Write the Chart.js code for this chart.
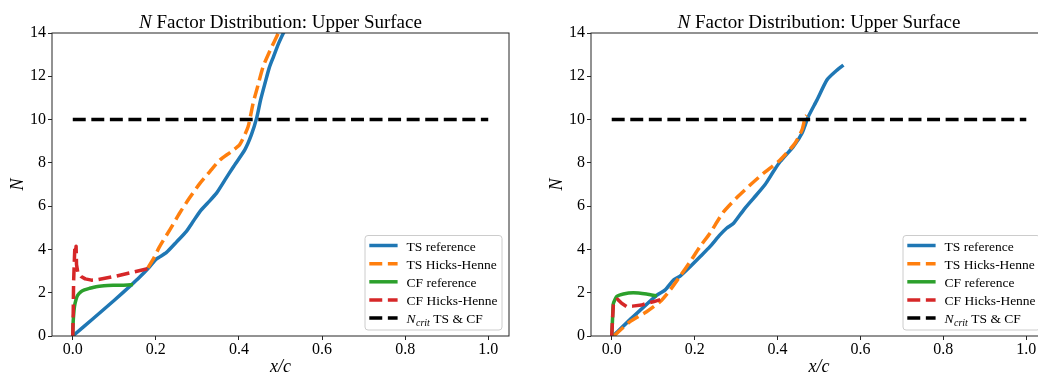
<!DOCTYPE html>
<html>
<head>
<meta charset="utf-8">
<script src="https://cdn.jsdelivr.net/npm/chart.js@4.4.1/dist/chart.umd.min.js"></script>
<style>
  body { margin: 0; background: #fff; width: 1038px; height: 376px; overflow: hidden; position: relative; }
  canvas { position: absolute; top: 0; }
  #leftChart { left: 0; }
  #rightChart { left: 520px; }
</style>
</head>
<body>
<canvas id="leftChart" width="520" height="376"></canvas>
<canvas id="rightChart" width="540" height="376"></canvas>
<script>
//========== data (x/c, N) ==========//

const xTicks = [0, 0.2, 0.4, 0.6, 0.8, 1.0];
const yTicks = [0, 2, 4, 6, 8, 10, 12, 14];
const titleText = ['N', ' Factor Distribution: Upper Surface'];
const seriesNames = ['TS reference', 'TS Hicks-Henne', 'CF reference', 'CF Hicks-Henne', 'N_crit TS & CF'];

// N_crit is the same on both sides
const nCrit = [[0, 10], [1, 10]];

// left plot
const tsRefLeft = [[0, 0], [0.05, 0.82], [0.1, 1.65], [0.141, 2.36], [0.16, 2.7], [0.185, 3.2], [0.201, 3.55],
  [0.225, 3.85], [0.25, 4.35], [0.274, 4.85], [0.29, 5.3], [0.306, 5.75], [0.325, 6.15], [0.346, 6.6],
  [0.366, 7.2], [0.386, 7.8], [0.414, 8.6], [0.43, 9.3], [0.443, 10.1], [0.452, 10.9], [0.463, 11.7],
  [0.473, 12.4], [0.483, 12.9], [0.495, 13.5], [0.507, 14.0], [0.52, 14.5]];
const tsHHLeft = [[0.181, 3.15], [0.195, 3.6], [0.209, 4.13], [0.235, 4.95], [0.257, 5.67], [0.28, 6.35],
  [0.306, 7.05], [0.33, 7.6], [0.354, 8.13], [0.38, 8.5], [0.402, 8.85], [0.422, 9.67], [0.434, 10.75],
  [0.446, 11.6], [0.458, 12.44], [0.475, 13.2], [0.495, 14.0], [0.505, 14.4]];
const cfRefLeft = [[0, 0], [0.001, 0.66], [0.004, 1.35], [0.008, 1.7], [0.012, 1.89], [0.02, 2.05], [0.028, 2.13],
  [0.04, 2.2], [0.056, 2.28], [0.075, 2.32], [0.097, 2.34], [0.12, 2.35], [0.145, 2.38]];
const cfHHLeft = [[0, 0], [0.001, 1.0], [0.002, 2.5], [0.004, 3.6], [0.005, 4.1], [0.007, 3.9], [0.008, 4.15],
  [0.009, 3.3], [0.012, 2.95], [0.02, 2.75], [0.03, 2.64], [0.045, 2.58], [0.06, 2.6], [0.1, 2.75],
  [0.145, 2.95], [0.185, 3.13]];

// right plot
const tsRefRight = [[0.003, 0], [0.05, 0.86], [0.109, 1.89], [0.129, 2.13], [0.149, 2.59], [0.165, 2.77],
  [0.189, 3.2], [0.213, 3.66], [0.237, 4.13], [0.261, 4.67], [0.277, 4.98], [0.294, 5.21], [0.318, 5.82],
  [0.342, 6.36], [0.37, 7.0], [0.39, 7.6], [0.406, 8.05], [0.438, 8.75], [0.459, 9.37], [0.474, 10.13],
  [0.495, 10.9], [0.519, 11.83], [0.539, 12.21], [0.559, 12.52]];
const tsHHRight = [[0.005, 0], [0.044, 0.66], [0.084, 1.12], [0.117, 1.59], [0.141, 2.13], [0.165, 2.77],
  [0.189, 3.43], [0.213, 4.13], [0.237, 4.75], [0.269, 5.72], [0.302, 6.4], [0.334, 6.98], [0.366, 7.52],
  [0.406, 8.13], [0.442, 8.9], [0.459, 9.52], [0.467, 10.13], [0.47, 10.2]];
const cfRefRight = [[0, 0], [0.002, 0.8], [0.004, 1.5], [0.012, 1.82], [0.028, 1.94], [0.052, 2.0],
  [0.084, 1.94], [0.109, 1.85]];
const cfHHRight = [[0, 0], [0.002, 0.8], [0.004, 1.45], [0.01, 1.66], [0.014, 1.7], [0.024, 1.51],
  [0.036, 1.36], [0.05, 1.38], [0.072, 1.43], [0.084, 1.51], [0.1, 1.58], [0.117, 1.68]];

//========== styles ==========//

const serif = "'Liberation Serif', 'Times New Roman', serif";
const lineW = 3.5;
const dashed = [12.95, 5.6];
const styles = [
  { color: '#1f77b4', dash: [], tension: 0.2 },
  { color: '#ff7f0e', dash: dashed, tension: 0.2 },
  { color: '#2ca02c', dash: [], tension: 0.2 },
  { color: '#d62728', dash: dashed, tension: 0 },
  { color: '#000000', dash: dashed, tension: 0 }
];

// frame, title and legend drawn the matplotlib way
const mplDecor = {
  id: 'mplDecor',
  afterDraw(chart) {
    const { ctx, chartArea: a } = chart;
    ctx.save();

    // spines
    ctx.strokeStyle = '#262626';
    ctx.lineWidth = 1;
    ctx.strokeRect(a.left, a.top, a.right - a.left, a.bottom - a.top);

    // title
    const tItalic = 'italic 19px ' + serif, tNormal = '19px ' + serif;
    ctx.font = tItalic;
    const wN = ctx.measureText(titleText[0]).width;
    ctx.font = tNormal;
    const wRest = ctx.measureText(titleText[1]).width;
    const tx = (a.left + a.right) / 2 - (wN + wRest) / 2;
    ctx.fillStyle = '#000';
    ctx.textAlign = 'left';
    ctx.textBaseline = 'alphabetic';
    ctx.font = tItalic;
    ctx.fillText(titleText[0], tx, 28);
    ctx.font = tNormal;
    ctx.fillText(titleText[1], tx + wN, 28);

    // legend
    const bw = 137, bh = 94.5, r = 3;
    const bx = a.right - 7 - bw, by = a.bottom - 6 - bh;
    ctx.beginPath();
    ctx.moveTo(bx + r, by);
    ctx.lineTo(bx + bw - r, by);
    ctx.arcTo(bx + bw, by, bx + bw, by + r, r);
    ctx.lineTo(bx + bw, by + bh - r);
    ctx.arcTo(bx + bw, by + bh, bx + bw - r, by + bh, r);
    ctx.lineTo(bx + r, by + bh);
    ctx.arcTo(bx, by + bh, bx, by + bh - r, r);
    ctx.lineTo(bx, by + r);
    ctx.arcTo(bx, by, bx + r, by, r);
    ctx.closePath();
    ctx.fillStyle = 'rgba(255,255,255,0.8)';
    ctx.fill();
    ctx.strokeStyle = '#cccccc';
    ctx.lineWidth = 1;
    ctx.stroke();

    chart.data.datasets.forEach((ds, i) => {
      const cy = by + 10 + i * 18.15;
      ctx.beginPath();
      ctx.setLineDash(ds.borderDash);
      ctx.lineDashOffset = 0;
      ctx.lineCap = 'butt';
      ctx.strokeStyle = ds.borderColor;
      ctx.lineWidth = ds.borderWidth;
      ctx.moveTo(bx + 4.3, cy);
      ctx.lineTo(bx + 32.6, cy);
      ctx.stroke();
      ctx.setLineDash([]);

      ctx.fillStyle = '#000';
      let x = bx + 41.5;
      const y = cy + 5;
      if (ds.label.startsWith('N_crit')) {
        ctx.font = 'italic 13.5px ' + serif;
        ctx.fillText('N', x, y);
        x += ctx.measureText('N').width + 0.5;
        ctx.font = 'italic 10px ' + serif;
        ctx.fillText('crit', x, y + 2.5);
        x += ctx.measureText('crit').width;
        ctx.font = '13.5px ' + serif;
        ctx.fillText(ds.label.slice(6), x, y);
      } else {
        ctx.font = '13.5px ' + serif;
        ctx.fillText(ds.label, x, y);
      }
    });

    ctx.restore();
  }
};

function makeChart(id, series, axisW, padRight) {
  const datasets = series.map((pts, i) => ({
    label: seriesNames[i],
    data: pts.map(p => ({ x: p[0], y: p[1] })),
    showLine: true,
    pointRadius: 0,
    borderColor: styles[i].color,
    borderWidth: lineW,
    borderDash: styles[i].dash,
    borderCapStyle: 'butt',
    borderJoinStyle: 'round',
    tension: styles[i].tension,
    fill: false,
    clip: 0,
    order: series.length - i   // later series on top, like matplotlib
  }));

  const tickGrid = { display: true, drawOnChartArea: false, drawTicks: true, tickLength: 4, color: '#262626', lineWidth: 1 };

  return new Chart(document.getElementById(id), {
    type: 'scatter',
    data: { datasets },
    options: {
      responsive: false,
      animation: false,
      events: [],
      layout: { padding: { top: 33, right: padRight, bottom: 0, left: 0 } },
      plugins: { legend: { display: false }, tooltip: { enabled: false } },
      scales: {
        x: {
          type: 'linear', min: -0.05, max: 1.05,
          afterBuildTicks: s => { s.ticks = xTicks.map(v => ({ value: v })); },
          afterFit: s => { s.height = 40; },
          grid: tickGrid,
          border: { display: false },
          ticks: { color: '#000', padding: 0, maxRotation: 0, font: { family: serif, size: 16 }, callback: v => v.toFixed(1) },
          title: { display: true, text: 'x/c', color: '#000', padding: 0, font: { family: serif, size: 18, style: 'italic', lineHeight: 1 } }
        },
        y: {
          type: 'linear', min: 0, max: 14,
          afterBuildTicks: s => { s.ticks = yTicks.map(v => ({ value: v })); },
          afterFit: s => { s.width = axisW; },
          grid: tickGrid,
          border: { display: false },
          ticks: { color: '#000', padding: 2, font: { family: serif, size: 16 }, callback: v => String(v) },
          title: { display: true, text: 'N', color: '#000', padding: { top: axisW - 43, bottom: 0 }, font: { family: serif, size: 18, style: 'italic', lineHeight: 1 } }
        }
      }
    },
    plugins: [mplDecor]
  });
}

const leftChart = makeChart('leftChart', [tsRefLeft, tsHHLeft, cfRefLeft, cfHHLeft, nCrit], 52, 11);
const rightChart = makeChart('rightChart', [tsRefRight, tsHHRight, cfRefRight, cfHHRight, nCrit], 71, 13);
</script>
</body>
</html>
